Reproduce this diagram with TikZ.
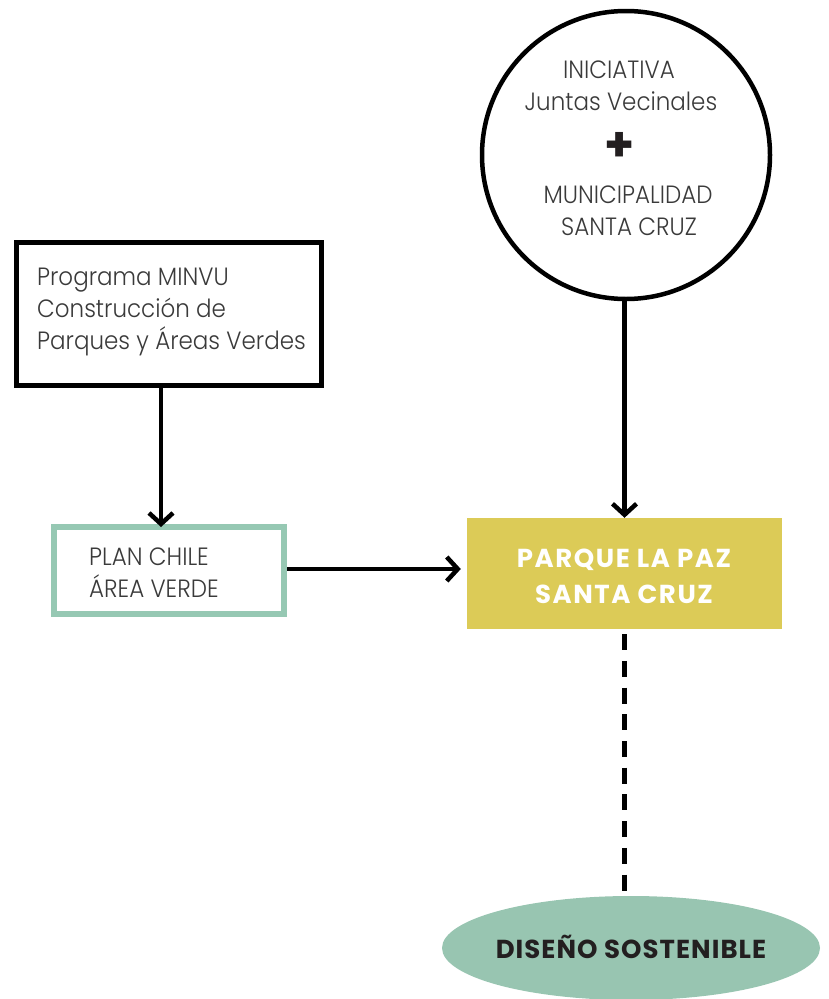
\documentclass[tikz,border=0pt]{standalone}
\usepackage{fontspec}
\usetikzlibrary{arrows.meta,shapes.geometric}
\newfontfamily\lightf{Poppins Light}[FakeStretch=0.92]
\newfontfamily\boldf{Poppins Bold}[LetterSpace=6]
\newfontfamily\ovalf{Poppins Bold}[LetterSpace=4]
\newfontfamily\plusf{Poppins Bold}
\definecolor{txtgray}{HTML}{3A3A3A}
\definecolor{plangreen}{HTML}{96C8B3}
\definecolor{ovalgreen}{HTML}{98C5B1}
\definecolor{parqueyellow}{HTML}{DCCB57}
\definecolor{darkink}{HTML}{231F20}
\tikzset{
  lighttext/.style={text=txtgray, font=\lightf\fontsize{25}{32}\selectfont, inner sep=0pt},
  arrowline/.style={line width=4.5pt, -{Straight Barb[length=11pt, width=24pt]}},
}
\begin{document}
\begin{tikzpicture}[x=1pt,y=-1pt]
\useasboundingbox (0,0) rectangle (829,999);
% circle
\node[circle, draw, line width=4.5pt, minimum size=288pt, inner sep=0pt] (circ) at (626,155) {};
\node[lighttext] (c1) at (619,70) {INICIATIVA};
\node[lighttext] (c2) at (621,101) {Juntas Vecinales};
\node[text=darkink, font=\plusf\fontsize{48}{48}\selectfont, inner sep=0pt] (plus) at (620,147) {+};
\node[lighttext] (c3) at (628,195) {MUNICIPALIDAD};
\node[lighttext] (c4) at (629,227) {SANTA CRUZ};
% MINVU box
\node[draw, line width=5pt, minimum width=305pt, minimum height=143pt, inner sep=0pt] (minvu) at (169,314) {};
\node[lighttext, align=left, anchor=west] (minvutxt) at (37,312) {Programa MINVU\\Construcción de\\Parques y Áreas Verdes};
% Plan box
\node[draw=plangreen, line width=6pt, minimum width=230pt, minimum height=87pt, inner sep=0pt] (plan) at (169,570.5) {};
\node[lighttext, align=left, anchor=west] (plantxt) at (89,573) {PLAN CHILE\\ÁREA VERDE};
% Parque box
\node[fill=parqueyellow, minimum width=315pt, minimum height=111pt, inner sep=0pt] (parque) at (624.5,573.5) {};
\node[text=white, font=\boldf\fontsize{26}{36}\selectfont, align=center, inner sep=0pt] (parquetxt) at (624,576) {PARQUE LA PAZ\\SANTA CRUZ};
% Oval
\node[ellipse, fill=ovalgreen, minimum width=378pt, minimum height=104pt, inner sep=0pt] (diseno) at (631,948) {};
\node[text=darkink, font=\ovalf\fontsize{26}{30}\selectfont, inner sep=0pt] (disenotxt) at (631,947) {DISEÑO SOSTENIBLE};
% connectors
\draw[arrowline] (minvu.south -| 161,0) -- ([yshift=-3pt]plan.north -| 161,0);
\draw[arrowline] ([yshift=1.5pt]plan.east) -- ([xshift=-6pt,yshift=1.5pt]plan.east -| parque.west);
\draw[arrowline] (parque.north |- circ.south) -- (parque.north);
\draw[line width=5pt, dash pattern=on 16pt off 10.7pt, shorten <=5pt, shorten >=5pt] (parque.south) -- (parque.south |- diseno.north);
\end{tikzpicture}
\end{document}
